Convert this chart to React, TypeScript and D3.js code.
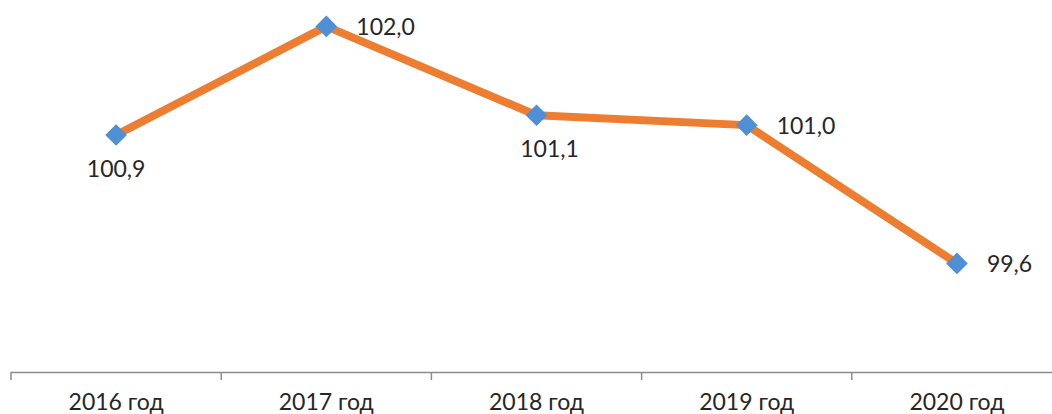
import React from "react";
import * as d3 from "d3";

const categories = ["2016 год", "2017 год", "2018 год", "2019 год", "2020 год"];
const values = [100.9, 102.0, 101.1, 101.0, 99.6];
const labels = ["100,9", "102,0", "101,1", "101,0", "99,6"];
const labelPos = ["below", "right", "below", "right", "right"];
const labelShift = [0, 0, 13, 0, 0];

const W = 1052;
const H = 414;

export default function App() {
  const x = d3.scaleBand().domain(categories).range([11, 1062]).padding(0);
  const y = d3.scaleLinear().domain([98.5, 102.5]).range([372, -23]);
  const cx = (c: string) => (x(c) as number) + x.bandwidth() / 2;
  const line = d3
    .line<number>()
    .x((_, i) => cx(categories[i]))
    .y((v) => y(v));
  const diamond = d3.symbol(d3.symbolDiamond2, 300)();
  const font = "Lato, 'Open Sans', sans-serif";
  const ticks = d3.range(categories.length + 1).map((i) => 11 + i * x.bandwidth());
  return (
    <svg
      width={W}
      height={H}
      style={{ position: "absolute", left: 0, top: 0, background: "#fff" }}
    >
      <line x1={11} x2={W} y1={372.5} y2={372.5} stroke="#8c8c8c" strokeWidth={1.5} />
      {ticks.map((t, i) => (
        <line key={i} x1={t} x2={t} y1={372} y2={380} stroke="#8c8c8c" strokeWidth={1.5} />
      ))}
      {categories.map((c) => (
        <text
          key={c}
          x={cx(c)}
          y={410}
          textAnchor="middle"
          fontFamily={font}
          fontSize={23}
          fill="#262626"
        >
          {c}
        </text>
      ))}
      <path
        d={line(values) || ""}
        fill="none"
        stroke="#ED7D31"
        strokeWidth={8}
        strokeLinejoin="round"
        strokeLinecap="round"
      />
      {values.map((v, i) => (
        <path
          key={i}
          d={diamond || ""}
          transform={`translate(${cx(categories[i])},${y(v)})`}
          fill="#4F8FD6"
        />
      ))}
      {values.map((v, i) => {
        const px = cx(categories[i]);
        const py = y(v);
        const below = labelPos[i] === "below";
        return (
          <text
            key={"l" + i}
            x={(below ? px : px + 30) + labelShift[i]}
            y={below ? py + 42 : py + 9}
            textAnchor={below ? "middle" : "start"}
            fontFamily={font}
            fontSize={23}
            fill="#262626"
          >
            {labels[i]}
          </text>
        );
      })}
    </svg>
  );
}
